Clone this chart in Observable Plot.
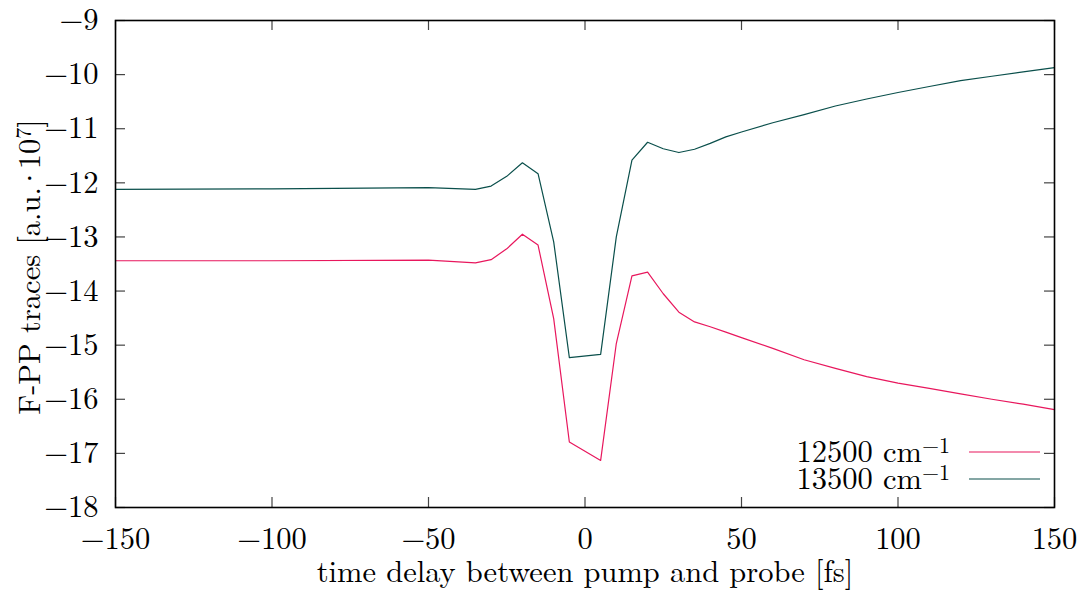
<!DOCTYPE html>
<html>
<head>
<meta charset="utf-8">
<script src="https://cdn.jsdelivr.net/npm/d3@7"></script>
<script src="https://cdn.jsdelivr.net/npm/@observablehq/plot@0.6"></script>
<style>
  html, body { margin: 0; padding: 0; background: #fff; }
</style>
</head>
<body>
<div id="chart"></div>
<script>
// ---- data ----
const times = [-150, -100, -50, -35, -30, -25, -20, -15, -10, -5, 5, 10, 15, 20, 25, 30, 35, 40, 45, 50, 60, 70, 80, 90, 100, 110, 120, 130, 140, 150];
const trace12500 = [-13.44, -13.44, -13.43, -13.48, -13.42, -13.22, -12.95, -13.15, -14.51, -16.79, -17.13, -14.97, -13.72, -13.65, -14.05, -14.39, -14.57, -14.66, -14.76, -14.86, -15.06, -15.27, -15.43, -15.58, -15.70, -15.80, -15.90, -16.00, -16.09, -16.19];
const trace13500 = [-12.12, -12.11, -12.09, -12.12, -12.06, -11.88, -11.63, -11.83, -13.09, -15.23, -15.17, -13.00, -11.58, -11.25, -11.37, -11.44, -11.38, -11.27, -11.15, -11.06, -10.89, -10.74, -10.58, -10.45, -10.33, -10.22, -10.11, -10.03, -9.95, -9.87];
const seriesNames = ["12500 cm\u207B\u00B9", "13500 cm\u207B\u00B9"];
const legendBase = ["12500 cm", "13500 cm"];
const legendSup = "\u22121";
const seriesColors = ["#e8175d", "#0a4f4b"];
const xTicks = [-150, -100, -50, 0, 50, 100, 150];
const yTicks = [-18, -17, -16, -15, -14, -13, -12, -11, -10, -9];
const xLabel = "time delay between pump and probe [fs]";
const yLabelParts = ["F-PP traces [a.u.", "\u00B7", "10", "7", "]"];
const yLabelFull = yLabelParts.join("");

// ---- build ----
const W = 1089, H = 591;
const mL = 115, mR = 35, mT = 20, mB = 84;
const iw = W - mL - mR, ih = H - mT - mB;
const tick = 10;
const FS = 30.5;
const FONT = '"Latin Modern Roman", "Liberation Serif", serif';

const rows = [];
[trace12500, trace13500].forEach((arr, si) => {
  arr.forEach((v, i) => rows.push({t: times[i], v, s: seriesNames[si]}));
});

const chart = Plot.plot({
  width: W, height: H,
  marginLeft: mL, marginRight: mR, marginTop: mT, marginBottom: mB,
  style: {fontSize: FS + "px", color: "#000", background: "#fff"},
  x: {domain: [-150, 150], ticks: xTicks},
  y: {domain: [-18, -9], ticks: yTicks},
  color: {domain: seriesNames, range: seriesColors},
  marks: [
    Plot.ruleY(yTicks, {y: d => d, insetRight: iw - tick, stroke: "#444", strokeWidth: 1.2}),
    Plot.ruleY(yTicks, {y: d => d, insetLeft: iw - tick, stroke: "#444", strokeWidth: 1.2}),
    Plot.ruleX(xTicks, {x: d => d, insetTop: ih - tick, stroke: "#444", strokeWidth: 1.2}),
    Plot.ruleX(xTicks, {x: d => d, insetBottom: ih - tick, stroke: "#444", strokeWidth: 1.2}),
    Plot.lineY(rows, {x: "t", y: "v", z: "s", stroke: "s", strokeWidth: 1.2}),
    Plot.frame({stroke: "#000", strokeWidth: 1.6}),
    Plot.axisX({ticks: xTicks, tickSize: 0, tickPadding: 20, label: null, fontSize: FS}),
    Plot.axisY({ticks: yTicks, tickSize: 0, tickPadding: 17, label: null, fontSize: FS}),
    Plot.text([xLabel], {text: d => d, frameAnchor: "bottom", dy: 74, fontSize: FS, fill: "#000"}),
    Plot.text([yLabelFull], {text: d => d, frameAnchor: "left", dx: -85, rotate: -90, fontSize: FS, fill: "#000"})
  ]
});

document.getElementById("chart").appendChild(chart);

const svg = d3.select(chart);
svg.attr("font-family", FONT).style("font-family", FONT);
svg.selectAll("text").attr("font-family", FONT).style("font-family", FONT);

// y label with real superscript and tight centred dot, centred explicitly
svg.selectAll("text").filter(function() { return this.textContent === yLabelFull; })
  .each(function() {
    const t = d3.select(this);
    t.text(null).attr("text-anchor", "start");
    t.append("tspan").text(yLabelParts[0]);
    t.append("tspan").attr("dx", -3).text(yLabelParts[1]);
    t.append("tspan").attr("dx", -3).text(yLabelParts[2]);
    t.append("tspan").attr("dy", "-0.42em").attr("font-size", "0.72em").text(yLabelParts[3]);
    t.append("tspan").attr("dy", "0.3em").text(yLabelParts[4]);
    const len = this.getComputedTextLength();
    t.attr("x", -len / 2);
  });

// legend (inside, bottom-right)
const lg = svg.append("g").attr("font-size", FS).attr("font-family", FONT);
const right = W - mR;
legendBase.forEach((name, i) => {
  const y = H - mB - 55 + i * 27;
  const tx = lg.append("text").attr("x", right - 104).attr("y", y + 10)
    .attr("text-anchor", "end").attr("fill", "#000");
  tx.append("tspan").text(name);
  tx.append("tspan").attr("dy", "-0.42em").attr("font-size", "0.72em").text(legendSup);
  lg.append("line").attr("x1", right - 85).attr("x2", right - 14)
    .attr("y1", y).attr("y2", y).attr("stroke", seriesColors[i]).attr("stroke-width", 1.2);
});
</script>
</body>
</html>
